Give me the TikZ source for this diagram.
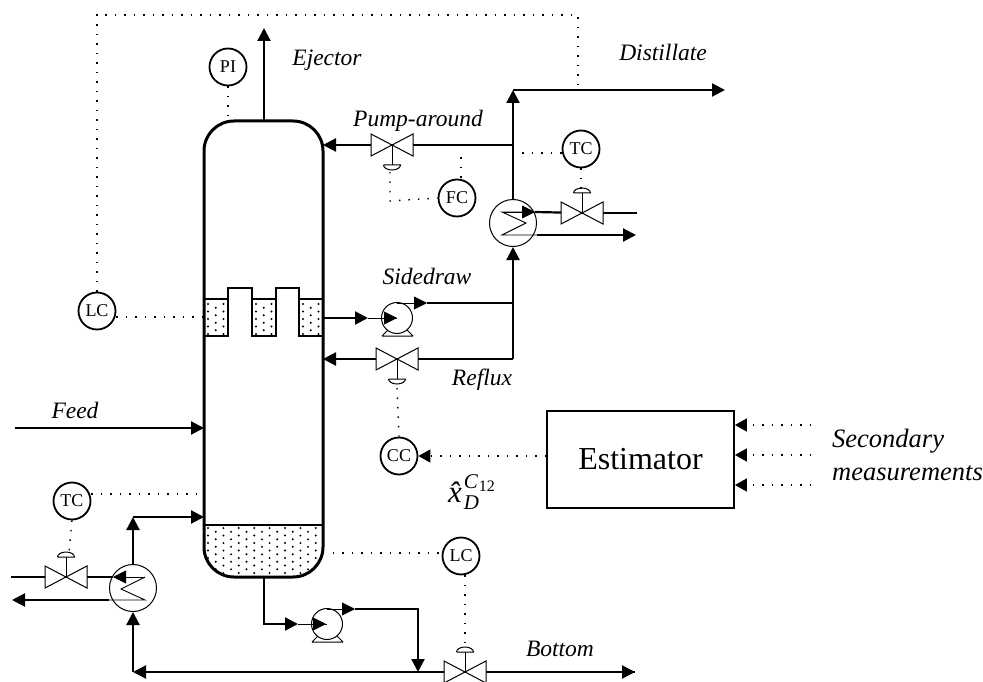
\documentclass[tikz,border=0pt]{standalone}
\usepackage{fontspec}
\setmainfont{Liberation Serif}
\usetikzlibrary{arrows.meta,calc}
\tikzset{
  pipe/.style={line width=2.2pt,line join=miter},
  thin pipe/.style={line width=0.9pt},
  flow/.style={pipe,-{Triangle[length=13pt,width=13pt]}},
  thin flow/.style={thin pipe,-{Triangle[length=13pt,width=13pt]}},
  signal/.style={line width=1.4pt,dash pattern=on 1.5pt off 8pt},
  signal in/.style={line width=1.4pt,dash pattern=on 1.5pt off 8pt,-{Triangle[length=12pt,width=13pt]}},
  ctrl/.style={circle,draw,line width=1.8pt,minimum size=37pt,inner sep=0pt,font=\fontsize{18}{20}\selectfont},
  hx/.style={circle,draw,line width=1pt,minimum size=47pt,inner sep=0pt},
  pumpbody/.style={circle,draw,line width=1pt,minimum size=31pt,inner sep=0pt},
  lab/.style={font=\fontsize{23.5}{26}\selectfont\itshape,inner sep=0pt},
  lab2/.style={font=\fontsize{26.5}{33}\selectfont\itshape,inner sep=0pt,align=left},
  wall/.style={line width=3pt},
  tray/.style={line width=1.8pt},
  pics/bowtie/.style={code={
    \draw[line width=1pt,fill=white] (-21,-11)--(21,11)--(21,-11)--(-21,11)--cycle;
  }},
  pics/act down/.style={code={
    \draw[line width=1pt] (0,0)--(0,20);
    \draw[line width=1pt] (-8.5,20)--(8.5,20) arc[start angle=0,end angle=-180,x radius=8.5,y radius=-5];
  }},
  pics/act up/.style={code={
    \draw[line width=1pt] (0,0)--(0,-20);
    \draw[line width=1pt] (-8.5,-20)--(8.5,-20) arc[start angle=0,end angle=180,x radius=8.5,y radius=-5];
  }},
}
\newcommand{\speckle}[4]{%
  \foreach \i in {0,...,8}{\foreach \j in {0,...,14}{%
    \pgfmathsetmacro{\px}{#1+4+\i*15.4+mod(\j,2)*7.7}%
    \pgfmathsetmacro{\py}{#2+3+\j*3.75}%
    \pgfmathparse{(\px<#3-1.5)&&(\py<#4-1.5)?1:0}%
    \ifnum\pgfmathresult=1 \fill (\px,\py) circle[radius=1.1pt];\fi
  }}}
\begin{document}
\begin{tikzpicture}[x=1pt,y=-1pt]
\useasboundingbox (0,0) rectangle (983,682);

% column
\begin{scope}
\clip[rounded corners=30pt] (204,121) rectangle (323,577);
\speckle{204}{525}{323}{577}
\speckle{204}{301}{228}{336}
\speckle{252}{301}{276}{336}
\speckle{299}{301}{323}{336}
\end{scope}
\draw[tray] (204,525)--(323,525);
\draw[tray] (204,299)--(228,299)--(228,288)--(252,288)--(252,299)--(276,299)--(276,288)--(299,288)--(299,299)--(323,299);
\draw[tray] (228,299)--(228,336)--(204,336);
\draw[tray] (252,299)--(252,336)--(276,336)--(276,299);
\draw[tray] (299,299)--(299,336)--(323,336);
\node[draw,wall,rounded corners=30pt,minimum width=119pt,minimum height=456pt,inner sep=0pt] (col) at (263.5,349) {};

% instruments
\node[ctrl] (pi) at (228,67) {PI};
\node[ctrl] (lc1) at (97,311) {LC};
\node[ctrl] (fc) at (457,198) {FC};
\node[ctrl] (tc1) at (581,149) {TC};
\node[ctrl] (cc) at (399,456) {CC};
\node[ctrl] (tc2) at (72,501) {TC};
\node[ctrl] (lc2) at (461,556) {LC};

% exchangers and pumps
\node[hx] (cond) at (513,223) {};
\node[hx] (reb) at (133,588) {};
\node[pumpbody] (p1) at (397,318) {};
\node[pumpbody] (p2) at (327,624) {};
\draw[line width=1pt] (382,336)--(413,336) (382,336)--(388,330) (413,336)--(407,330);
\draw[line width=1pt] (312,642)--(343,642) (312,642)--(318,636) (343,642)--(337,636);

% estimator
\node[draw,line width=1.8pt,minimum width=187pt,minimum height=97pt,inner sep=0pt,font=\fontsize{32}{36}\selectfont] (est) at (640.5,459.5) {Estimator};

% named coordinates
\coordinate (ejtop) at (264,28);
\coordinate (coltop) at (264,121);
\coordinate (dist0) at (513,90);
\coordinate (distend) at (725,90);
\coordinate (pa0) at (513,145);
\coordinate (v1) at (392,145);
\coordinate (pawall) at (323,145);
\coordinate (v2) at (582,213);
\coordinate (cond1) at (502,212);
\coordinate (cond2) at (526,223);
\coordinate (cond3) at (502,235);
\coordinate (cw1) at (535,212);
\coordinate (cwin) at (637,213);
\coordinate (cwout) at (636,235);
\coordinate (sd0) at (323,318);
\coordinate (sdt) at (368,318);
\coordinate (sdi) at (397,318);
\coordinate (sda) at (397,303);
\coordinate (sdb) at (427,303);
\coordinate (junc) at (513,303);
\coordinate (refl0) at (513,359);
\coordinate (v3) at (397,359);
\coordinate (rflwall) at (323,359);
\coordinate (v4) at (66,577);
\coordinate (rb1) at (145,577);
\coordinate (rb2) at (121,589);
\coordinate (rb3) at (145,600);
\coordinate (rbt) at (113,577);
\coordinate (steamin) at (11,577);
\coordinate (condout) at (12,600);
\coordinate (rtop) at (133,517);
\coordinate (rwall) at (204,517);
\coordinate (rbot) at (133,672);
\coordinate (botout) at (264,577);
\coordinate (botb) at (264,624);
\coordinate (bott) at (298,624);
\coordinate (bi) at (326,624);
\coordinate (ba) at (327,609);
\coordinate (bb) at (355,609);
\coordinate (bc) at (418,609);
\coordinate (bd) at (418,672);
\coordinate (v5) at (465,672);
\coordinate (bend) at (635,672);
\coordinate (feed0) at (15,428);
\coordinate (feed1) at (204,428);

% main pipes
\draw[flow] (coltop)--(ejtop);
\draw[flow] (cond.north)--(dist0);
\draw[flow] (dist0)--(distend);
\draw[flow] (pa0)--(pawall);
\draw[pipe] (sdb)--(junc);
\draw[flow] (refl0)--(cond.south);
\draw[flow] (refl0)--(rflwall);
\draw[flow] (sd0)--(sdt);
\draw[thin pipe] (sdt)--(p1.center);
\draw[thin flow] (p1.west)--(sdi);
\draw[thin flow] (sda)--(sdb);
\draw[flow] (feed0)--(feed1);
\draw[flow] (reb.north)--(rtop);
\draw[flow] (rtop)--(rwall);
\draw[flow] (rbot)--(reb.south);
\draw[flow] (bend)--(rbot);
\draw[flow] (v5)--(bend);
\draw[flow] (botout)--(botb)--(bott);
\draw[thin pipe] (bott)--(p2.center);
\draw[thin flow] (p2.west)--(bi);
\draw[thin flow] (ba)--(bb);
\draw[flow] (bb)--(bc)--(bd);

% condenser internals and utility lines
\draw[thin pipe] (cw1)--(cond1)--(cond2)--(cond3)--(cond3-|cond.east);
\draw[thin flow] (cond1)--(cw1);
\draw[pipe] (cw1)--(v2);
\draw[pipe] (v2)--(cwin);
\draw[flow] (cond3-|cond.east)--(cwout);
\draw[thin pipe] (rb1)--(rb2)--(rb3)--(rb3-|reb.west);
\draw[thin flow] (rb1)--(rbt);
\draw[pipe] (rbt)--(v4);
\draw[pipe] (v4)--(steamin);
\draw[flow] (rb3-|reb.west)--(condout);

% valves
\path (v1) pic {act down} pic {bowtie};
\path (v2) pic {act up} pic {bowtie};
\path (v3) pic {act down} pic {bowtie};
\path (v4) pic {act up} pic {bowtie};
\path (v5) pic {act up} pic {bowtie};

% signals
\draw[signal] (pi.south)--(228,121);
\draw[signal] (lc1.north)--(97,15)--(578,15)--(578,90);
\draw[signal] (lc1.east)++(0,6)--(204,317);
\draw[signal] (390,172)--(390,201)--(fc.west);
\draw[signal] (fc.north)++(4,-1)--(461,152);
\draw[signal] (tc1.west)++(0,4)--(516,153);
\draw[signal] (tc1.south)--(581,190);
\draw[signal] (397,388)--(cc.north);
\draw[signal in] (est.west|-cc)--(cc.east);
\draw[signal] (tc2.east)++(0,-7)--(204,494);
\draw[signal] (tc2.south)--(69,552);
\draw[signal] (col.east|-lc2.west)++(8,-3)--(442,553);
\draw[signal] (lc2.south)++(4,0)--(465,648);
\coordinate (sm1) at (811,425);
\coordinate (sm2) at (811,455);
\coordinate (sm3) at (811,485);
\draw[signal in] (sm1)--(est.east|-sm1);
\draw[signal in] (sm2)--(est.east|-sm2);
\draw[signal in] (sm3)--(est.east|-sm3);

% labels
\node[lab] (l1) at (327,60) {Ejector};
\node[lab] (l2) at (663,52) {Distillate};
\node[lab] (l3) at (418,121) {Pump-around};
\node[lab] (l4) at (427,276) {Sidedraw};
\node[lab] (l5) at (482,380) {Reflux};
\node[lab] (l6) at (75,410) {Feed};
\node[lab] (l7) at (560,649) {Bottom};
\node[lab2,anchor=west] (l8) at (832,455) {Secondary\\measurements};
\node[inner sep=0pt,anchor=base west] (l9) at (448,502) {\fontsize{31}{31}\selectfont\itshape \^x\kern2pt\rlap{\raisebox{-7pt}{\fontsize{21}{21}\selectfont D}}\raisebox{14pt}{\fontsize{21}{21}\selectfont C\kern1pt\raisebox{-3pt}{\fontsize{16}{16}\selectfont\upshape 12}}};
\end{tikzpicture}
\end{document}
